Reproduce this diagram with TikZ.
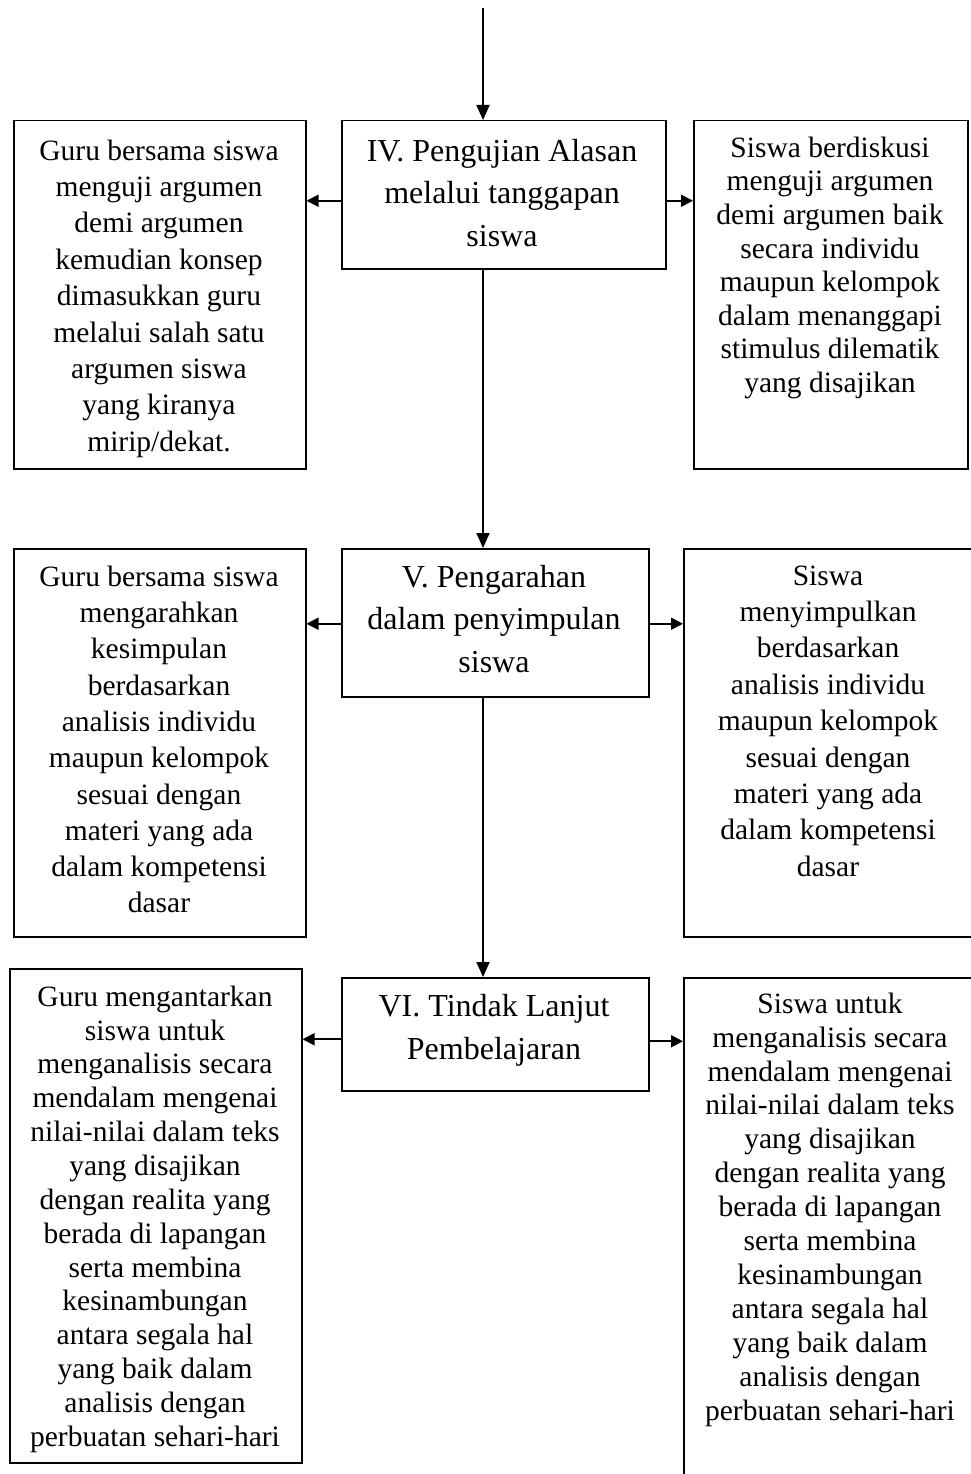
\documentclass[tikz,border=0pt]{standalone}
\usepackage{fontspec}
\setmainfont{Liberation Serif}
\usetikzlibrary{arrows.meta}
\tikzset{
  box/.style={draw, line width=1.5pt, rectangle, anchor=north west, inner sep=0pt},
  txt/.style={align=center, inner sep=0pt, anchor=north},
  arr/.style={line width=1.8pt, -{Triangle[length=12pt,width=12pt]}},
  varr/.style={line width=1.8pt, -{Triangle[length=15pt,width=13pt]}}
}
\begin{document}
\begin{tikzpicture}[x=1pt,y=-1pt]
\useasboundingbox (0,0) rectangle (971,1474);
\clip (0,0) rectangle (971,1474);
% boxes
\node[box, minimum width=292pt, minimum height=348pt] (L1) at (13,120) {};
\node[box, minimum width=324pt, minimum height=148pt] (IV) at (341,120) {};
\node[box, minimum width=274pt, minimum height=348pt] (R1) at (693,120) {};
\node[box, minimum width=292pt, minimum height=388pt] (L2) at (13,548) {};
\node[box, minimum width=307pt, minimum height=148pt] (V) at (341,548) {};
\node[box, minimum width=300pt, minimum height=388pt] (R2) at (683,548) {};
\node[box, minimum width=292pt, minimum height=494pt] (L3) at (9,968) {};
\node[box, minimum width=307pt, minimum height=113pt] (VI) at (341,977) {};
\node[box, minimum width=300pt, minimum height=530pt] (R3) at (683,977) {};
% texts
\node[txt, font=\fontsize{29.5}{36.4}\selectfont] (L1t) at (159,134.5) {\strut Guru bersama siswa\\menguji argumen\\demi argumen\\kemudian konsep\\dimasukkan guru\\melalui salah satu\\argumen siswa\\yang kiranya\\mirip/dekat.};
\node[txt, font=\fontsize{32}{42.5}\selectfont] (IVt) at (502,131.3) {\strut IV. Pengujian Alasan\\melalui tanggapan\\siswa};
\node[txt, font=\fontsize{29.5}{33.6}\selectfont] (R1t) at (830,133.5) {\strut Siswa berdiskusi\\menguji argumen\\demi argumen baik\\secara individu\\maupun kelompok\\dalam menanggapi\\stimulus dilematik\\yang disajikan};
\node[txt, font=\fontsize{29.5}{36.3}\selectfont] (L2t) at (159,560.6) {\strut Guru bersama siswa\\mengarahkan\\kesimpulan\\berdasarkan\\analisis individu\\maupun kelompok\\sesuai dengan\\materi yang ada\\dalam kompetensi\\dasar};
\node[txt, font=\fontsize{32}{42.5}\selectfont] (Vt) at (494,557.3) {\strut V. Pengarahan\\dalam penyimpulan\\siswa};
\node[txt, font=\fontsize{29.5}{36.4}\selectfont] (R2t) at (828,559.5) {\strut Siswa\\menyimpulkan\\berdasarkan\\analisis individu\\maupun kelompok\\sesuai dengan\\materi yang ada\\dalam kompetensi\\dasar};
\node[txt, font=\fontsize{29.5}{33.85}\selectfont] (L3t) at (155,982.3) {\strut Guru mengantarkan\\siswa untuk\\menganalisis secara\\mendalam mengenai\\nilai-nilai dalam teks\\yang disajikan\\dengan realita yang\\berada di lapangan\\serta membina\\kesinambungan\\antara segala hal\\yang baik dalam\\analisis dengan\\perbuatan sehari-hari};
\node[txt, font=\fontsize{32}{43}\selectfont] (VIt) at (494,985.9) {\strut VI. Tindak Lanjut\\Pembelajaran};
\node[txt, font=\fontsize{29.5}{33.9}\selectfont] (R3t) at (830,989.3) {\strut Siswa untuk\\menganalisis secara\\mendalam mengenai\\nilai-nilai dalam teks\\yang disajikan\\dengan realita yang\\berada di lapangan\\serta membina\\kesinambungan\\antara segala hal\\yang baik dalam\\analisis dengan\\perbuatan sehari-hari};
% connectors
\coordinate (top) at (483,8);
\draw[varr] (top) -- (top |- IV.north);
\draw[varr] (IV.south -| top) -- (V.north -| top);
\draw[varr] (V.south -| top) -- (VI.north -| top);
\draw[arr] ([yshift=-6pt]IV.west) -- ([yshift=-6pt]IV.west -| L1.east);
\draw[arr] ([yshift=-6pt]IV.east) -- ([yshift=-6pt]IV.east -| R1.west);
\draw[arr] ([yshift=-1pt]V.west) -- ([yshift=-1pt]V.west -| L2.east);
\draw[arr] ([yshift=-1pt]V.east) -- ([yshift=-1pt]V.east -| R2.west);
\draw[arr] ([yshift=-5pt]VI.west) -- ([yshift=-5pt]VI.west -| L3.east);
\draw[arr] ([yshift=-7pt]VI.east) -- ([yshift=-7pt]VI.east -| R3.west);
\end{tikzpicture}
\end{document}
